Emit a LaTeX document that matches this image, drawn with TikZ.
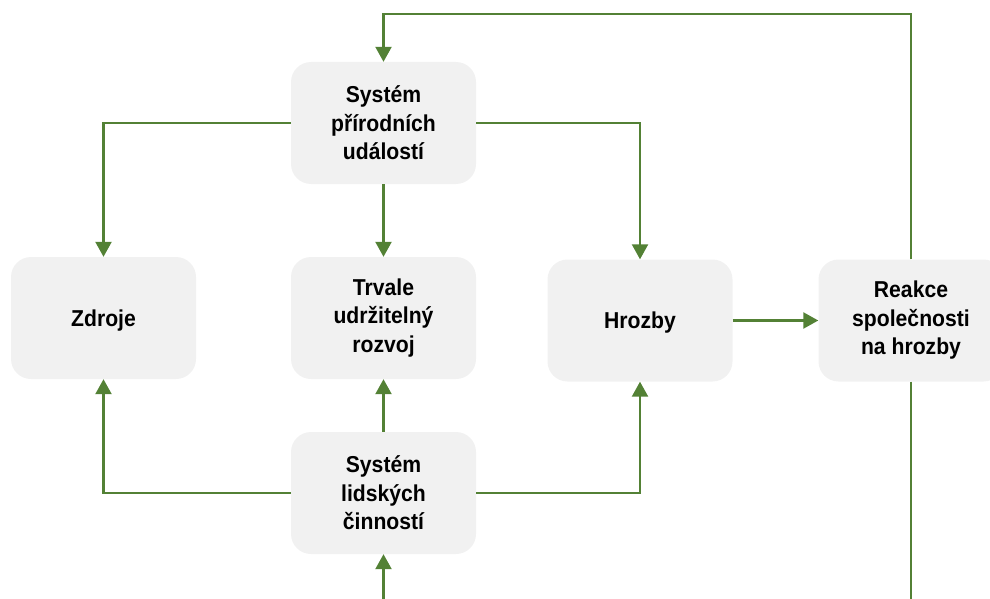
\documentclass[tikz,border=0pt]{standalone}
\usepackage{fontspec}
\setmainfont[FakeStretch=0.92]{Liberation Sans}
\usetikzlibrary{positioning,calc}
\usetikzlibrary{arrows.meta}

\definecolor{arrgreen}{HTML}{538135}
\definecolor{boxgray}{HTML}{F1F1F1}

\tikzset{
    box/.style={fill=boxgray, rounded corners=20pt, minimum width=185pt,
        minimum height=122pt, align=center, inner sep=0pt,
        font=\fontsize{23}{28.5}\selectfont\bfseries},
    link/.style={draw=arrgreen, line width=2.3pt,
        -{Triangle[length=15pt,width=16pt]}},
}

\begin{document}
\begin{tikzpicture}[x=1pt, y=-1pt]

    \useasboundingbox (0, 0) rectangle (990, 599);

    \def\cx{383.5}
    \def\lx{103.5}
    \def\hx{640}
    \def\rx{911}

    \node [box] (pr) at (\cx, 123) {Systém\\přírodních\\událostí};
    \node [box, text depth=0pt] (zd) at (\lx, 318) {Zdroje};
    \node [box] (tr) at (\cx, 318) {Trvale\\udržitelný\\rozvoj};
    \node [box, text depth=0pt] (hr) at (\hx, 320.5) {Hrozby};
    \node [box] (re) at (\rx, 320.5) {Reakce\\společnosti\\na hrozby};
    \node [box] (li) at (\cx, 493) {Systém\\lidských\\činností};

    \coordinate (top) at (\cx, 14);
    \coordinate (reout) at (\rx, 610);
    \coordinate (liin) at (\cx, 610);

    % from the natural system
    \draw [link] (pr.west) -| (zd.north);
    \draw [link] (pr.south) -- (tr.north);
    \draw [link] (pr.east) -| (hr.north);

    % from the human system
    \draw [link] (li.west) -| (zd.south);
    \draw [link] (li.north) -- (tr.south);
    \draw [link] (li.east) -| (hr.south);

    \draw [link] (hr.east) -- (re.west);
    \draw [link] (re.north) |- (top) -- (pr.north);
    \draw [link, -] (re.south) -- (reout);
    \draw [link] (liin) -- (li.south);

\end{tikzpicture}
\end{document}
